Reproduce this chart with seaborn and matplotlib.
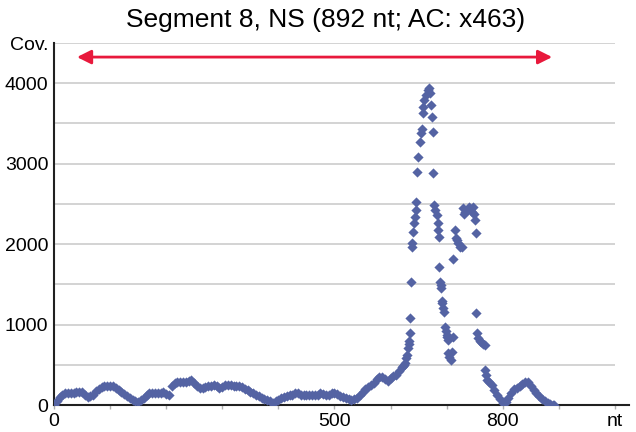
import numpy as np
import pandas as pd
import matplotlib
matplotlib.use('Agg')
import matplotlib.pyplot as plt
import seaborn as sns

# coverage, low region read every 5 nt
flat_nt = list(range(0, 621, 5))
flat_cov = [0, 50, 100, 125, 145, 150, 150, 155, 160, 160,
            160, 130, 100, 110, 125, 175, 205, 225, 235, 240,
            235, 230, 210, 185, 160, 140, 110, 85, 60, 50,
            40, 60, 90, 120, 145, 150, 150, 150, 155, 160,
            140, 125, 230, 275, 280, 290, 290, 290, 300, 310,
            270, 230, 215, 210, 225, 230, 240, 250, 230, 210,
            225, 245, 250, 245, 240, 235, 230, 220, 200, 185,
            165, 150, 130, 110, 90, 70, 60, 45, 30, 45,
            65, 90, 100, 110, 120, 130, 145, 150, 130, 120,
            125, 130, 130, 125, 120, 145, 140, 125, 130, 145,
            150, 135, 115, 100, 90, 75, 60, 70, 85, 120,
            165, 195, 220, 245, 270, 320, 350, 350, 320, 300,
            340, 355, 370, 420, 470]

# the two peaks, single points
peak_nt = [622, 624, 626, 628, 629, 631, 632, 633, 634, 635, 637, 638, 639,
           640, 642, 643, 645, 646, 647, 649, 652, 654, 656, 657, 658, 660,
           663, 666, 668, 670, 672, 673, 675, 676, 677, 680, 682, 684, 685,
           686, 687, 688, 689, 690, 691, 692, 694, 695, 697, 698, 700, 701,
           702, 703, 704, 707, 709, 711, 712, 715, 716, 718, 720, 724, 727,
           729, 731, 733, 736, 739, 742, 745, 747, 749, 750, 752, 753, 754,
           756, 759, 762, 765, 768, 769, 770, 772]
peak_cov = [480, 500, 520, 580, 620, 710, 760, 800, 890, 1080, 1530, 1960, 2020,
            2150, 2260, 2340, 2420, 2520, 2900, 3080, 3270, 3380, 3430, 3630, 3700, 3790,
            3850, 3910, 3940, 3880, 3730, 3580, 3390, 2880, 2480, 2420, 2360, 2260, 2170,
            2090, 1710, 1530, 1490, 1450, 1290, 1270, 1200, 1160, 970, 920, 870, 850,
            810, 650, 600, 560, 660, 850, 1820, 2170, 2070, 2050, 2010, 1970, 1960,
            2450, 2380, 2400, 2420, 2460, 2440, 2400, 2460, 2380, 2300, 2140, 1140, 890,
            830, 800, 780, 760, 740, 430, 370, 310]

tail_nt = [775, 780, 785, 790, 795, 800, 805, 810, 815, 820, 825, 830, 835,
           840, 845, 850, 855, 860, 865, 870, 875, 880, 885, 890, 892]
tail_cov = [280, 250, 190, 120, 70, 30, 35, 90, 150, 195, 210, 230, 260,
            285, 290, 240, 190, 150, 115, 80, 50, 25, 10, 0, 0]

x_ticks = list(range(0, 1001, 100))
x_labels = ['0', '', '', '', '', '500', '', '', '800', '', 'nt']
y_ticks = list(range(0, 4501, 500))
y_labels = ['0', '', '1000', '', '2000', '', '3000', '', '4000', 'Cov.']

df = pd.DataFrame({'nt': flat_nt + peak_nt + tail_nt,
                   'cov': flat_cov + peak_cov + tail_cov})

sns.set_theme(style='white')
plt.rcParams['font.family'] = ['Liberation Sans', 'DejaVu Sans']
plt.rcParams['text.color'] = 'black'
plt.rcParams['xtick.color'] = 'black'
plt.rcParams['ytick.color'] = 'black'

fig = plt.figure(figsize=(6.36, 4.32), dpi=100)
ax = fig.add_axes([54 / 636, 27 / 432, 575 / 636, 362 / 432])

for yv in y_ticks[1:]:
    ax.hlines(yv, 0, 1000, color='#c8c8c8', lw=1.1, zorder=0)

sns.scatterplot(data=df, x='nt', y='cov', marker='D', s=27, color='#5463a3',
                linewidth=0, ax=ax, zorder=3)

ax.annotate('', xy=(41, 4325), xytext=(888, 4325),
            arrowprops=dict(arrowstyle='<|-|>,head_length=0.7,head_width=0.35',
                            color='#e8193c', lw=2, shrinkA=0, shrinkB=0))

ax.set_xlim(0, 1025)
ax.set_ylim(0, 4500)
ax.set_xticks(x_ticks)
ax.set_xticklabels(x_labels, fontsize=14)
ax.set_yticks(y_ticks)
ax.set_yticklabels(y_labels, fontsize=14)
ax.tick_params(axis='x', length=3, width=1, color='#b0b0b0', labelcolor='black',
               pad=3, direction='out', bottom=True)
ax.tick_params(axis='y', length=0, pad=4, labelcolor='black')
ax.set_xlabel('')
ax.set_ylabel('')

for side in ['top', 'right']:
    ax.spines[side].set_visible(False)
ax.spines['left'].set_color('#202020')
ax.spines['left'].set_linewidth(1.5)
ax.spines['bottom'].set_color('#202020')
ax.spines['bottom'].set_linewidth(1.5)

fig.text(326 / 636, 1 - 20 / 432, 'Segment 8, NS (892 nt; AC: x463)',
         ha='center', va='center', fontsize=19, color='black')

fig.savefig('out.png', dpi=100)
